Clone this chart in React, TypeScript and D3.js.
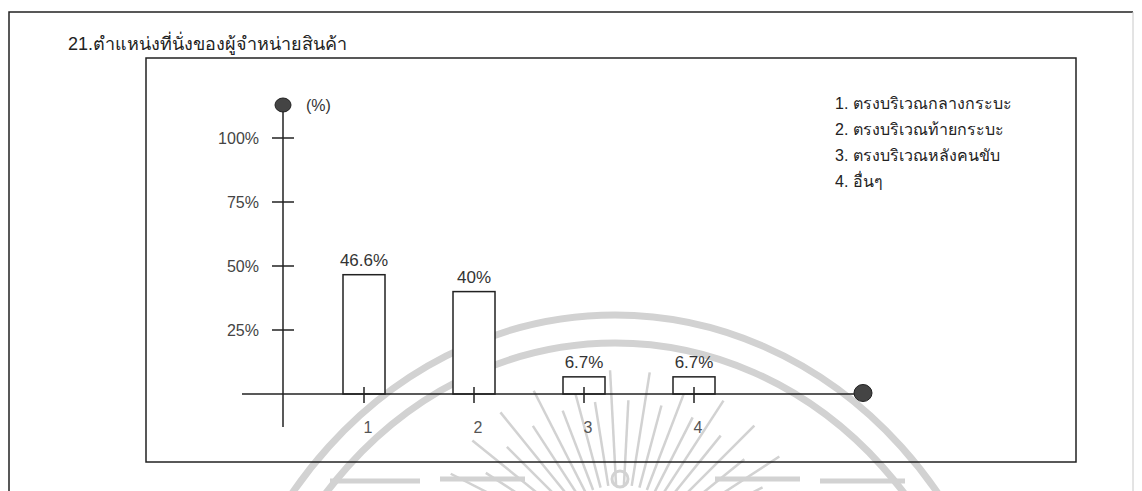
import React from "react";
import * as d3 from "d3";

const title = "21.ตำแหน่งที่นั่งของผู้จำหน่ายสินค้า";
const categories = ["1", "2", "3", "4"];
const values = [46.6, 40, 6.7, 6.7];
const valueLabels = ["46.6%", "40%", "6.7%", "6.7%"];
const yTicks = [25, 50, 75, 100];
const yTickLabels = ["25%", "50%", "75%", "100%"];
const legendItems = [
  "1. ตรงบริเวณกลางกระบะ",
  "2. ตรงบริเวณท้ายกระบะ",
  "3. ตรงบริเวณหลังคนขับ",
  "4. อื่นๆ",
];

const W = 1142;
const H = 491;
const FONT = "'Liberation Sans', Arial, 'Noto Sans', sans-serif";

export default function App() {
  const y = d3.scaleLinear().domain([0, 100]).range([394, 138]);
  const x = d3.scalePoint<string>().domain(categories).range([364, 694]);
  const barW = 42;
  const axisX = 283;
  const axisY = y(0);

  const rays = d3.range(-165, -14, 6);
  const rayCx = 620;
  const rayCy = 560;

  return (
    <svg
      width={W}
      height={H}
      style={{ position: "absolute", left: 0, top: 0, background: "#fff" }}
      fontFamily={FONT}
    >
      <rect x={0} y={0} width={W} height={H} fill="#fff" />
      {/* watermark (scan background) */}
      <g fill="none" stroke="#d2d2d2">
        <ellipse cx={615} cy={765} rx={405} ry={450} strokeWidth={7} />
        <ellipse cx={615} cy={765} rx={378} ry={422} strokeWidth={7} />
        {rays.map((a, i) => {
          const r = (a * Math.PI) / 180;
          const r0 = 75;
          const r1 = i % 2 === 0 ? 190 : 160;
          return (
            <line
              key={i}
              x1={rayCx + r0 * Math.cos(r)}
              y1={rayCy + r0 * Math.sin(r)}
              x2={rayCx + r1 * Math.cos(r)}
              y2={rayCy + r1 * Math.sin(r)}
              strokeWidth={2.5}
            />
          );
        })}
        <path d="M330,481 H420 M440,479 H525 M715,479 H800 M820,481 H905" strokeWidth={5} />
        <circle cx={620} cy={479} r={8} strokeWidth={3} />
      </g>
      {/* outer frame */}
      <path d="M9,491 V12 H1133" fill="none" stroke="#222" strokeWidth={1.5} />
      <path d="M1133,12 V491" fill="none" stroke="#c8c8c8" strokeWidth={1} />
      <text x={68} y={50} fontSize={18} fill="#222">
        {title}
      </text>
      {/* inner box */}
      <rect x={146} y={58} width={930} height={404} fill="none" stroke="#222" strokeWidth={1.5} />

      {/* y axis */}
      <line x1={axisX} y1={105} x2={axisX} y2={427} stroke="#222" strokeWidth={1.5} />
      <ellipse cx={axisX} cy={105} rx={8} ry={7} fill="#444" stroke="#222" />
      <text x={306} y={111} fontSize={16} fill="#333">
        (%)
      </text>
      {yTicks.map((t, i) => (
        <g key={t}>
          <line x1={272} x2={294} y1={y(t)} y2={y(t)} stroke="#222" strokeWidth={1.5} />
          <text
            x={259}
            y={y(t) + 2}
            fontSize={16}
            fill="#444"
            textAnchor="end"
            dominantBaseline="middle"
          >
            {yTickLabels[i]}
          </text>
        </g>
      ))}

      {/* bars */}
      {categories.map((c, i) => (
        <g key={c}>
          <rect
            x={(x(c) as number) - barW / 2}
            y={y(values[i])}
            width={barW}
            height={axisY - y(values[i])}
            fill="#fff"
            stroke="#222"
            strokeWidth={1.5}
          />
          <text
            x={x(c) as number}
            y={y(values[i]) - 9}
            fontSize={17}
            fill="#333"
            textAnchor="middle"
          >
            {valueLabels[i]}
          </text>
        </g>
      ))}

      {/* x axis */}
      <line x1={242} x2={863} y1={axisY} y2={axisY} stroke="#222" strokeWidth={1.5} />
      <ellipse cx={863} cy={axisY - 1} rx={9} ry={8.5} fill="#444" stroke="#222" />
      {categories.map((c) => (
        <g key={"t" + c}>
          <line
            x1={x(c) as number}
            x2={x(c) as number}
            y1={axisY - 7}
            y2={axisY + 9}
            stroke="#222"
            strokeWidth={1.5}
          />
          <text
            x={(x(c) as number) + 4}
            y={433}
            fontSize={16}
            fill="#555"
            textAnchor="middle"
          >
            {c}
          </text>
        </g>
      ))}

      {/* legend */}
      {legendItems.map((t, i) => (
        <text key={t} x={835} y={109 + i * 26} fontSize={16} fill="#222">
          {t}
        </text>
      ))}
    </svg>
  );
}
